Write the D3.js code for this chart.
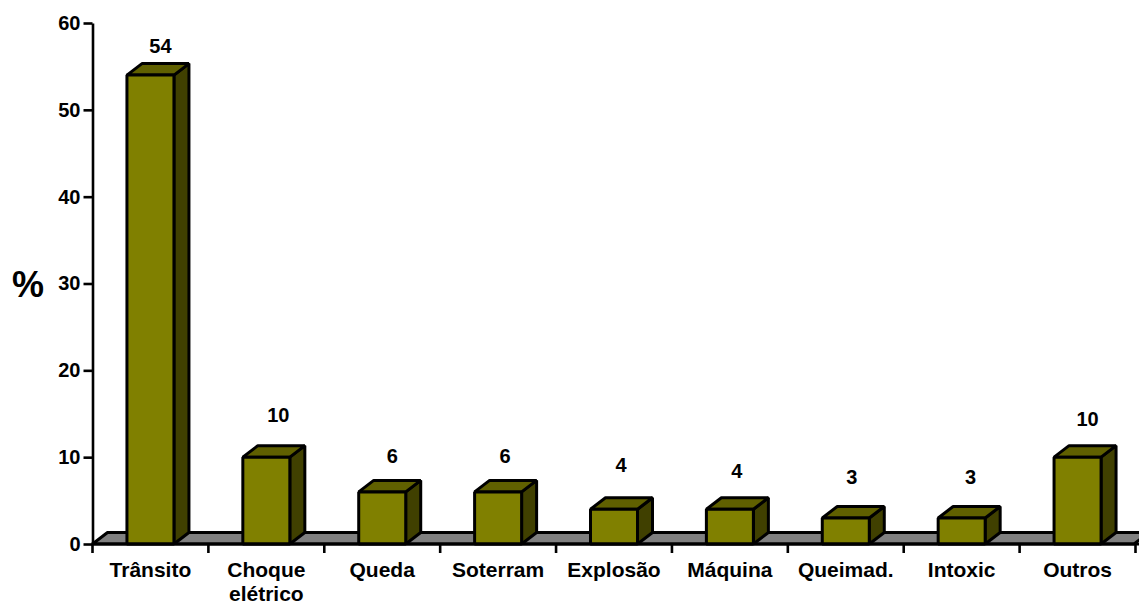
<!DOCTYPE html>
<html><head><meta charset="utf-8">
<script src="https://cdn.jsdelivr.net/npm/d3@7"></script>
<style>html,body{margin:0;background:#fff}svg{display:block}text{font-family:"Liberation Sans",Arial,sans-serif;font-weight:bold;fill:#000}</style>
</head><body><svg id="c" width="1139" height="604"></svg>
<script>
const categories=["Trânsito","Choque|elétrico","Queda","Soterram","Explosão","Máquina","Queimad.","Intoxic","Outros"];
const values=[54,10,6,6,4,4,3,3,10];
const yTicks=[0,10,20,30,40,50,60];
const labelLift=[29,42,36,36,44,38,41,41,38];
const labelShift=[10,12,10,7,7,7,6,9,10];

const svg=d3.select("#c");
const W=1139,H=604,x0=92.5,x1=1135.5,yB=544,yT=23;
const dx=15,dy=11.5,bw=47;
const y=d3.scaleLinear().domain([0,60]).range([yB,yT]);
const x=d3.scaleBand().domain(categories).range([x0,x1]).padding(0);
const path=p=>"M"+p.map(a=>a.join(",")).join("L")+"Z";
const stroke={stroke:"#000","stroke-width":3,"stroke-linejoin":"bevel"};
const apply=(s,o)=>{for(const k in o)s.attr(k,o[k]);return s};

// floor
apply(svg.append("path").attr("d",path([[x0,yB],[x0+dx,yB-dy],[W+10,yB-dy],[W+10-dx,yB]])).attr("fill","#808080"),stroke);

// bars
const g=svg.selectAll("g.bar").data(categories.map((c,i)=>({c,v:values[i],i}))).join("g").attr("class","bar");
g.each(function(d){
  const s=d3.select(this),l=x(d.c)+x.bandwidth()/2-bw/2,r=l+bw,t=y(d.v);
  apply(s.append("path").attr("d",path([[r,yB],[r+dx,yB-dy],[r+dx,t-dy],[r,t]])).attr("fill","#404000"),stroke);
  apply(s.append("path").attr("d",path([[l,t],[l+dx,t-dy],[r+dx,t-dy],[r,t]])).attr("fill","#606000"),stroke);
  apply(s.append("path").attr("d",path([[l,yB],[l,t],[r,t],[r,yB]])).attr("fill","#808000"),stroke);
  s.append("text").attr("x",(l+r)/2+labelShift[d.i]).attr("y",t-labelLift[d.i]).attr("text-anchor","middle").attr("dominant-baseline","central").style("font-size","20px").text(d.v);
});

// axes
const ya=d3.axisLeft(y).tickValues(yTicks).tickSize(9).tickPadding(3).tickSizeOuter(0);
const ga=svg.append("g").attr("transform",`translate(${x0},0)`).call(ya);
ga.selectAll("text").style("font-size","20px");
ga.selectAll("path,line").attr("stroke","#000").attr("stroke-width",2.6);
const ticksX=d3.range(categories.length+1).map(i=>x0+i*x.step());
const bl=svg.append("g");
bl.append("line").attr("x1",x0-1).attr("x2",W).attr("y1",yB).attr("y2",yB).attr("stroke","#000").attr("stroke-width",3);
bl.selectAll("line.t").data(ticksX).join("line").attr("class","t").attr("x1",d=>d).attr("x2",d=>d).attr("y1",yB).attr("y2",yB+9).attr("stroke","#000").attr("stroke-width",2.6);
svg.selectAll("text.cat").data(categories).join("text").attr("class","cat").attr("text-anchor","middle").style("font-size","21px")
  .attr("x",d=>x(d)+x.bandwidth()/2).attr("y",576.5)
  .each(function(d){const t=d3.select(this);d.split("|").forEach((w,i)=>t.append("tspan").attr("x",t.attr("x")).attr("dy",i?24:0).text(w));});
svg.append("text").attr("x",28).attr("y",284).attr("dominant-baseline","central").attr("text-anchor","middle").style("font-size","36px").text("%");
</script></body></html>
